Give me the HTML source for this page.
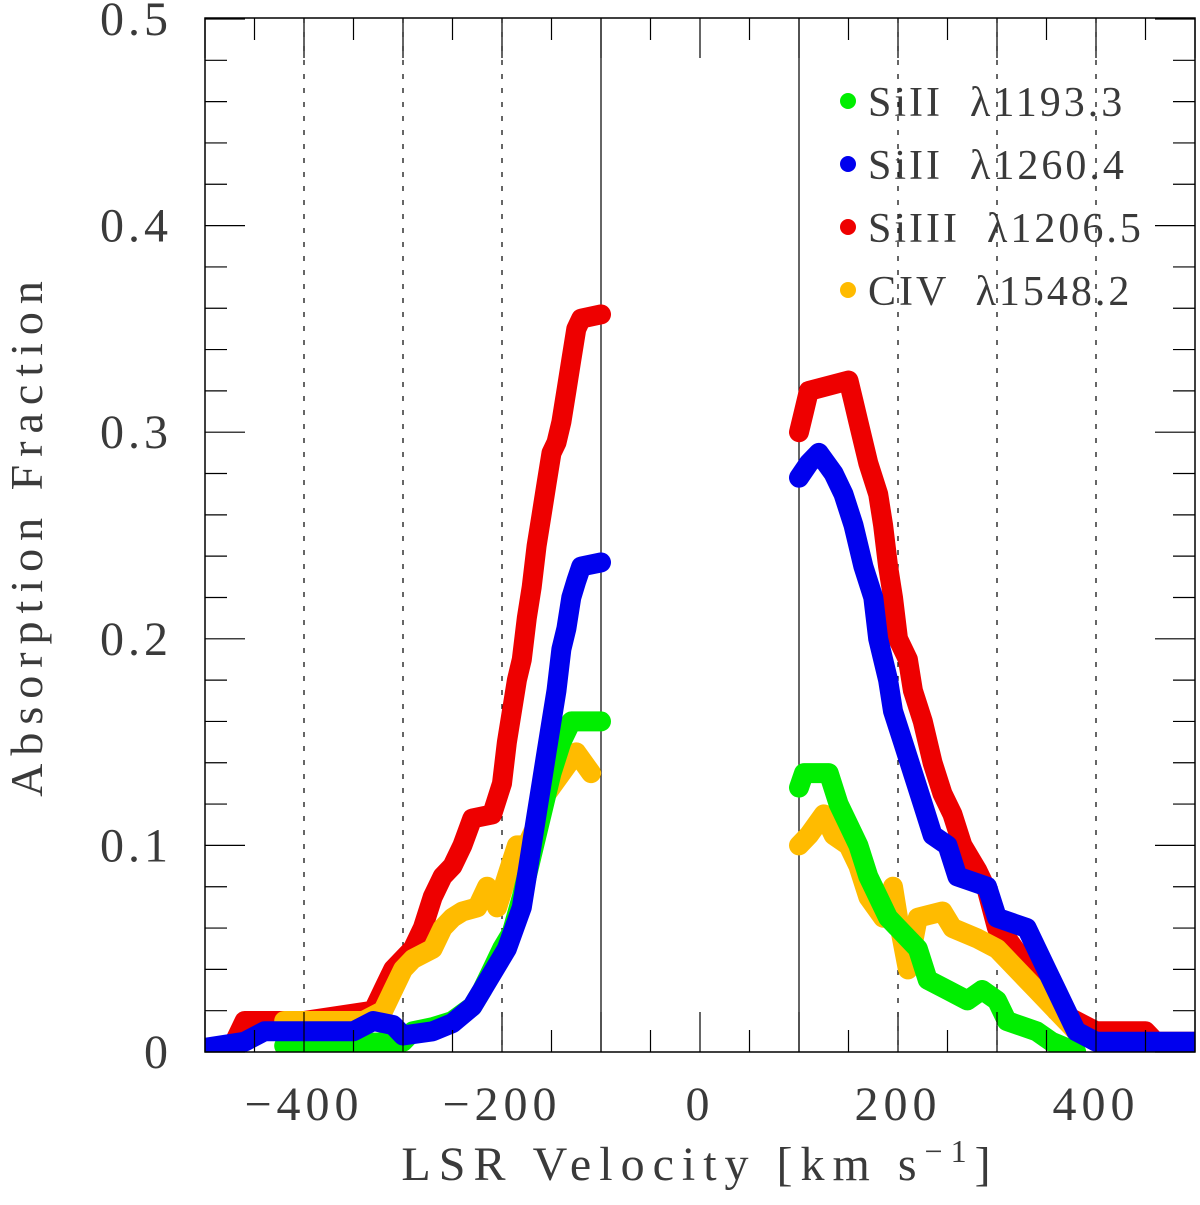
<!DOCTYPE html>
<html><head><meta charset="utf-8"><style>
html,body{margin:0;padding:0;background:#fff;}
svg text{font-family:"Liberation Serif",serif;fill:#3a3a3a;}
</style></head><body>
<svg id="chart" width="1200" height="1200" xmlns="http://www.w3.org/2000/svg">
<defs><clipPath id="clip"><rect x="205" y="18" width="990" height="1034"/></clipPath></defs>
<g id="grid"></g>
<g id="series" clip-path="url(#clip)"></g>
<rect x="205" y="18" width="990" height="1034" fill="none" stroke="#000" stroke-width="1.5"/>
<g id="ticks"></g>
<g id="labels"></g>
<text x="700" y="1180" font-size="48" text-anchor="middle" letter-spacing="8">LSR Velocity [km s<tspan dy="-18" font-size="32">−1</tspan><tspan dy="18">]</tspan></text>
<text transform="translate(42,535) rotate(-90)" font-size="46" text-anchor="middle" letter-spacing="8">Absorption Fraction</text>
<g id="legend"></g>
</svg>
<script>
const xTicks = [-400, -200, 0, 200, 400];
const xTickLabels = ["−400", "−200", "0", "200", "400"];
const yTicks = [0, 0.1, 0.2, 0.3, 0.4, 0.5];
const yTickLabels = ["0", "0.1", "0.2", "0.3", "0.4", "0.5"];
const dottedLines = [-400, -300, -200, 200, 300, 400];
const solidLines = [-100, 100];
const seriesNames = ["SiII  λ1193.3", "SiII  λ1260.4", "SiIII  λ1206.5", "CIV  λ1548.2"];
const seriesColors = ["#00ee00", "#0000ee", "#ee0000", "#ffbb00"];

const redLeftV = [-470,-460,-400,-330,-320,-310,-300,-290,-280,-270,-260,-250,-240,-230,-210,-200,-195,-190,-185,-180,-175,-170,-165,-160,-155,-150,-145,-140,-135,-130,-125,-120,-100];
const redLeftY = [0.005,0.015,0.015,0.02,0.03,0.04,0.045,0.05,0.06,0.075,0.085,0.09,0.10,0.113,0.115,0.13,0.15,0.165,0.18,0.19,0.21,0.225,0.245,0.26,0.275,0.29,0.295,0.305,0.32,0.335,0.35,0.355,0.357];
const redRightV = [100,105,110,150,155,160,170,180,185,190,195,200,210,215,225,235,245,255,265,280,290,300,310,325,340,350,360,380,400,450,460,500];
const redRightY = [0.30,0.31,0.32,0.325,0.315,0.305,0.285,0.27,0.255,0.235,0.22,0.2,0.19,0.175,0.16,0.14,0.125,0.115,0.1,0.088,0.078,0.06,0.055,0.045,0.035,0.03,0.02,0.015,0.01,0.01,0.005,0.005];

const blueLeftV = [-500,-460,-440,-350,-330,-310,-300,-270,-250,-230,-210,-195,-180,-175,-170,-165,-160,-155,-150,-145,-140,-135,-130,-125,-120,-100];
const blueLeftY = [0.002,0.005,0.01,0.01,0.015,0.013,0.008,0.01,0.014,0.022,0.038,0.05,0.07,0.085,0.1,0.115,0.13,0.145,0.16,0.175,0.195,0.205,0.22,0.228,0.235,0.237];
const blueRightV = [100,110,120,135,145,155,165,175,180,190,195,205,215,225,235,250,260,290,300,330,340,350,360,370,380,400,500];
const blueRightY = [0.278,0.285,0.29,0.28,0.27,0.255,0.235,0.22,0.2,0.18,0.165,0.15,0.135,0.12,0.105,0.1,0.085,0.08,0.065,0.06,0.05,0.04,0.03,0.02,0.01,0.005,0.005];

const greenLeftV = [-420,-300,-290,-270,-250,-230,-220,-210,-200,-190,-180,-170,-160,-150,-140,-130,-100];
const greenLeftY = [0.003,0.005,0.01,0.012,0.015,0.022,0.03,0.04,0.05,0.058,0.075,0.095,0.115,0.135,0.15,0.16,0.16];
const greenRightV = [100,105,130,140,150,160,170,180,190,200,220,230,250,270,285,300,310,340,355,380];
const greenRightY = [0.128,0.135,0.135,0.12,0.11,0.1,0.085,0.075,0.065,0.06,0.05,0.035,0.03,0.025,0.03,0.025,0.015,0.01,0.005,0.0];

const orangeLeftV = [-420,-340,-320,-310,-300,-290,-270,-260,-250,-240,-225,-215,-205,-195,-185,-175,-165,-155,-140,-125,-110];
const orangeLeftY = [0.015,0.015,0.02,0.03,0.04,0.045,0.05,0.06,0.065,0.068,0.07,0.08,0.07,0.085,0.1,0.1,0.11,0.125,0.135,0.145,0.135];
const orangeRightV = [100,110,125,135,150,160,170,185,195,200,210,220,245,255,280,300,320,340,360,380];
const orangeRightY = [0.1,0.105,0.115,0.105,0.1,0.09,0.075,0.065,0.08,0.065,0.04,0.065,0.068,0.06,0.055,0.05,0.04,0.03,0.02,0.01];

const NS = "http://www.w3.org/2000/svg";
function xs(v){ return 700 + v * 0.99; }
function ys(f){ return 1052 - f * 2066; }
function mk(tag, attrs, parent){
  const e = document.createElementNS(NS, tag);
  for (const k in attrs) e.setAttribute(k, attrs[k]);
  parent.appendChild(e); return e;
}
const grid = document.getElementById('grid');
dottedLines.forEach(v => {
  const l = mk('line', {x1: xs(v), x2: xs(v), y1: 18, y2: 1052, stroke: '#000', 'stroke-width': 1.2, 'stroke-dasharray': '5,9'}, grid);
  
  
});
solidLines.forEach(v => {
  const l = mk('line', {x1: xs(v), x2: xs(v), y1: 18, y2: 1052, stroke: '#000', 'stroke-width': 1.2}, grid);
  
  
});

const ticks = document.getElementById('ticks');
for (let v = -500; v <= 500; v += 50) {
  const len = (v % 100 === 0) ? 40 : 22;
  mk('line', {x1: xs(v), x2: xs(v), y1: 1052, y2: 1052 - len, stroke: '#000', 'stroke-width': 1.2}, ticks);
  mk('line', {x1: xs(v), x2: xs(v), y1: 18, y2: 18 + len, stroke: '#000', 'stroke-width': 1.2}, ticks);
}
for (let i = 0; i <= 25; i++) {
  const f = i * 0.02;
  const len = (i % 5 === 0) ? 40 : 22;
  mk('line', {x1: 205, x2: 205 + len, y1: ys(f), y2: ys(f), stroke: '#000', 'stroke-width': 1.2}, ticks);
  mk('line', {x1: 1195, x2: 1195 - len, y1: ys(f), y2: ys(f), stroke: '#000', 'stroke-width': 1.2}, ticks);
}

const labels = document.getElementById('labels');
xTicks.forEach((v, i) => {
  const t = mk('text', {x: xs(v), y: 1120, 'font-size': 48, 'text-anchor': 'middle', 'letter-spacing': 5}, labels);
  t.textContent = xTickLabels[i];
  
  
});
yTicks.forEach((f, i) => {
  const t = mk('text', {x: 172, y: ys(f) + 16, 'font-size': 48, 'text-anchor': 'end', 'letter-spacing': 4}, labels);
  t.textContent = yTickLabels[i];
  
  
});

const seriesLayer = document.getElementById('series');
function drawSeries(vs, fs, color, name){
  const pts = vs.map((v, i) => xs(v).toFixed(1) + ',' + ys(fs[i]).toFixed(1)).join(' ');
  const p = mk('polyline', {points: pts, fill: 'none', stroke: color, 'stroke-width': 20, 'stroke-linecap': 'round', 'stroke-linejoin': 'round'}, seriesLayer);
  
  
}
drawSeries(redLeftV, redLeftY, seriesColors[2], 'siiii-1206-left');
drawSeries(redRightV, redRightY, seriesColors[2], 'siiii-1206-right');
drawSeries(orangeLeftV, orangeLeftY, seriesColors[3], 'civ-1548-left');
drawSeries(orangeRightV, orangeRightY, seriesColors[3], 'civ-1548-right');
drawSeries(greenLeftV, greenLeftY, seriesColors[0], 'siii-1193-left');
drawSeries(greenRightV, greenRightY, seriesColors[0], 'siii-1193-right');
drawSeries(blueLeftV, blueLeftY, seriesColors[1], 'siii-1260-left');
drawSeries(blueRightV, blueRightY, seriesColors[1], 'siii-1260-right');

const legend = document.getElementById('legend');
seriesNames.forEach((n, i) => {
  const y = 101 + i * 63;
  const c = mk('circle', {cx: 848, cy: y, r: 8, fill: seriesColors[i]}, legend);
  
  
  const t = mk('text', {x: 868, y: y + 15, 'font-size': 42, 'letter-spacing': 3}, legend);
  t.style.whiteSpace = 'pre';
  t.textContent = n;
  
  
});
</script>
</body></html>
